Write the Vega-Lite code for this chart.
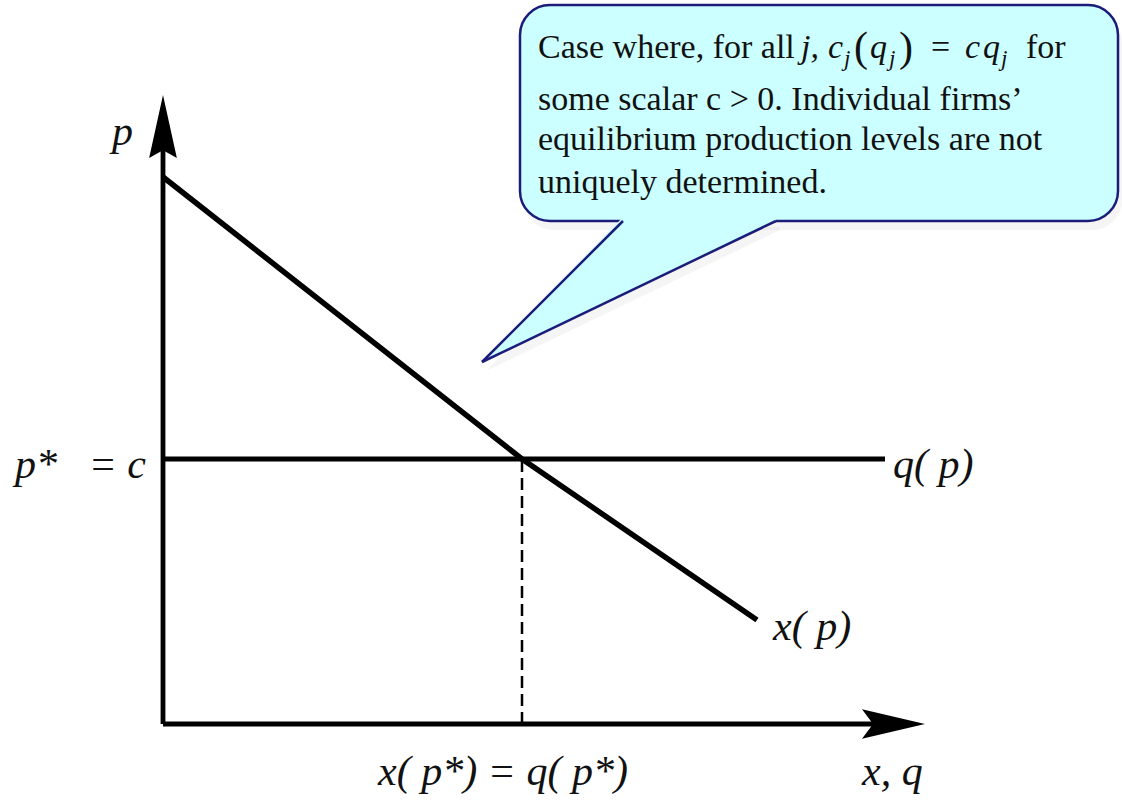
{
  "$schema": "https://vega.github.io/schema/vega-lite/v6.json",
  "width": 1122,
  "height": 803,
  "padding": 0,
  "autosize": {"type": "fit", "contains": "padding"},
  "background": "white",
  "config": {"view": {"stroke": null}, "text": {"font": "Liberation Serif, Times New Roman, DejaVu Serif, serif"}},
  "layer": [
    {
      "data": {"values": [{"x": 3.61, "x2": 9.59, "y": 7.1, "y2": 4.94}]},
      "mark": {"type": "rect", "cornerRadius": 30, "fill": "#999999", "opacity": 0.1},
      "encoding": {
        "x": {"field": "x", "type": "quantitative", "scale": {"domain": [-1.63, 9.59], "nice": false, "zero": false}, "axis": null},
        "x2": {"field": "x2"},
        "y": {"field": "y", "type": "quantitative", "scale": {"domain": [-0.79, 7.24], "nice": false, "zero": false}, "axis": null},
        "y2": {"field": "y2"}
      }
    },
    {
      "data": {"values": [{"x": 3.23, "y": 3.53, "y2": 3.53}, {"x": 4.64, "y": 4.97, "y2": 4.206}, {"x": 6.17, "y": 4.97, "y2": 4.94}]},
      "mark": {"type": "area", "fill": "#999999", "opacity": 0.1},
      "encoding": {
        "x": {"field": "x", "type": "quantitative", "axis": null},
        "y": {"field": "y", "type": "quantitative", "axis": null},
        "y2": {"field": "y2"}
      }
    },
    {
      "data": {"values": [{"x": 3.57, "x2": 9.55, "y": 7.19, "y2": 5.03}]},
      "mark": {"type": "rect", "cornerRadius": 30, "fill": "#CCFFFF", "stroke": "#1C1C7A", "strokeWidth": 2.5},
      "encoding": {
        "x": {"field": "x", "type": "quantitative", "axis": null},
        "x2": {"field": "x2"},
        "y": {"field": "y", "type": "quantitative", "axis": null},
        "y2": {"field": "y2"}
      }
    },
    {
      "data": {"values": [{"x": 3.19, "y": 3.62, "y2": 3.62}, {"x": 4.6, "y": 5.07, "y2": 4.296}, {"x": 6.13, "y": 5.07, "y2": 5.03}]},
      "mark": {"type": "area", "fill": "#CCFFFF", "interpolate": "linear"},
      "encoding": {
        "x": {"field": "x", "type": "quantitative", "axis": null},
        "y": {"field": "y", "type": "quantitative", "axis": null},
        "y2": {"field": "y2"}
      }
    },
    {
      "data": {"values": [{"side": "a", "x": 3.19, "y": 3.62}, {"side": "a", "x": 4.6, "y": 5.03}, {"side": "b", "x": 3.19, "y": 3.62}, {"side": "b", "x": 6.13, "y": 5.03}]},
      "mark": {"type": "line", "color": "#1C1C7A", "strokeWidth": 2.5, "strokeJoin": "miter"},
      "encoding": {
        "x": {"field": "x", "type": "quantitative", "axis": null},
        "y": {"field": "y", "type": "quantitative", "axis": null},
        "detail": {"field": "side"}
      }
    },
    {
      "data": {"values": [
        {"t": "Case where, for all", "x": 3.75, "y": 6.66},
        {"t": "=", "x": 7.68, "y": 6.66},
        {"t": "for", "x": 8.63, "y": 6.66},
        {"t": "some scalar c > 0. Individual firms’", "x": 3.75, "y": 6.14},
        {"t": "equilibrium production levels are not", "x": 3.75, "y": 5.74},
        {"t": "uniquely determined.", "x": 3.75, "y": 5.31}
      ]},
      "mark": {"type": "text", "fontSize": 34, "align": "left", "baseline": "alphabetic", "color": "#111111"},
      "encoding": {
        "x": {"field": "x", "type": "quantitative", "axis": null},
        "y": {"field": "y", "type": "quantitative", "axis": null},
        "text": {"field": "t"}
      }
    },
    {
      "data": {"values": [
        {"t": "(", "x": 6.91, "y": 6.63},
        {"t": ")", "x": 7.36, "y": 6.63}
      ]},
      "mark": {"type": "text", "fontSize": 42, "align": "left", "baseline": "alphabetic", "color": "#111111"},
      "encoding": {
        "x": {"field": "x", "type": "quantitative", "axis": null},
        "y": {"field": "y", "type": "quantitative", "axis": null},
        "text": {"field": "t"}
      }
    },
    {
      "data": {"values": [
        {"t": "j,", "x": 6.38, "y": 6.66},
        {"t": "c", "x": 6.65, "y": 6.66},
        {"t": "q", "x": 7.07, "y": 6.66},
        {"t": "c", "x": 8.02, "y": 6.66},
        {"t": "q", "x": 8.2, "y": 6.66}
      ]},
      "mark": {"type": "text", "fontStyle": "italic", "fontSize": 34, "align": "left", "baseline": "alphabetic", "color": "#111111"},
      "encoding": {
        "x": {"field": "x", "type": "quantitative", "axis": null},
        "y": {"field": "y", "type": "quantitative", "axis": null},
        "text": {"field": "t"}
      }
    },
    {
      "data": {"values": [
        {"t": "j", "x": 6.81, "y": 6.58},
        {"t": "j", "x": 7.26, "y": 6.58},
        {"t": "j", "x": 8.38, "y": 6.58}
      ]},
      "mark": {"type": "text", "fontStyle": "italic", "fontSize": 23, "align": "left", "baseline": "alphabetic", "color": "#111111"},
      "encoding": {
        "x": {"field": "x", "type": "quantitative", "axis": null},
        "y": {"field": "y", "type": "quantitative", "axis": null},
        "text": {"field": "t"}
      }
    },
    {
      "data": {"values": [{"x": 3.59, "y": 0}, {"x": 3.59, "y": 2.65}]},
      "mark": {"type": "line", "color": "black", "strokeWidth": 2.5, "strokeDash": [12, 6]},
      "encoding": {
        "x": {"field": "x", "type": "quantitative", "axis": null},
        "y": {"field": "y", "type": "quantitative", "axis": null}
      }
    },
    {
      "data": {"values": [
        {"seg": "yaxis", "x": 0, "y": 0}, {"seg": "yaxis", "x": 0, "y": 5.74},
        {"seg": "xaxis", "x": 0, "y": 0}, {"seg": "xaxis", "x": 7.17, "y": 0},
        {"seg": "supply", "x": 0, "y": 2.65}, {"seg": "supply", "x": 7.22, "y": 2.65}
      ]},
      "mark": {"type": "line", "color": "black", "strokeWidth": 4.8, "strokeCap": "butt"},
      "encoding": {
        "x": {"field": "x", "type": "quantitative", "axis": null},
        "y": {"field": "y", "type": "quantitative", "axis": null},
        "detail": {"field": "seg"}
      }
    },
    {
      "data": {"values": [{"x": 0, "y": 5.47}, {"x": 3.59, "y": 2.65}, {"x": 5.94, "y": 1.04}]},
      "mark": {"type": "line", "color": "black", "strokeWidth": 5.5, "strokeCap": "butt"},
      "encoding": {
        "x": {"field": "x", "type": "quantitative", "axis": null},
        "y": {"field": "y", "type": "quantitative", "axis": null}
      }
    },
    {
      "data": {"values": [{"x": 0, "y": 5.975}]},
      "mark": {"type": "point", "shape": "M0,-1L0.44,1L0,0.75L-0.44,1Z", "size": 3969, "filled": true, "color": "black", "opacity": 1},
      "encoding": {
        "x": {"field": "x", "type": "quantitative", "axis": null},
        "y": {"field": "y", "type": "quantitative", "axis": null}
      }
    },
    {
      "data": {"values": [{"x": 7.305, "y": 0}]},
      "mark": {"type": "point", "shape": "M1,0L-1,0.47L-0.65,0L-1,-0.47Z", "size": 3969, "filled": true, "color": "black", "opacity": 1},
      "encoding": {
        "x": {"field": "x", "type": "quantitative", "axis": null},
        "y": {"field": "y", "type": "quantitative", "axis": null}
      }
    },
    {
      "data": {"values": [
        {"t": "p", "x": -0.51, "y": 5.79},
        {"t": "p*", "x": -1.48, "y": 2.46},
        {"t": "q( p)", "x": 7.3, "y": 2.46},
        {"t": "x( p)", "x": 6.1, "y": 0.84},
        {"t": "x( p*) = q( p*)", "x": 2.15, "y": -0.61},
        {"t": "x, q", "x": 6.99, "y": -0.61}
      ]},
      "mark": {"type": "text", "fontStyle": "italic", "fontSize": 42, "align": "left", "baseline": "alphabetic", "color": "#111111"},
      "encoding": {
        "x": {"field": "x", "type": "quantitative", "axis": null},
        "y": {"field": "y", "type": "quantitative", "axis": null},
        "text": {"field": "t"}
      }
    },
    {
      "data": {"values": [{"t": "= c", "x": -0.17, "y": 2.46}]},
      "mark": {"type": "text", "fontStyle": "italic", "fontSize": 42, "align": "right", "baseline": "alphabetic", "color": "#111111"},
      "encoding": {
        "x": {"field": "x", "type": "quantitative", "axis": null},
        "y": {"field": "y", "type": "quantitative", "axis": null},
        "text": {"field": "t"}
      }
    }
  ]
}
